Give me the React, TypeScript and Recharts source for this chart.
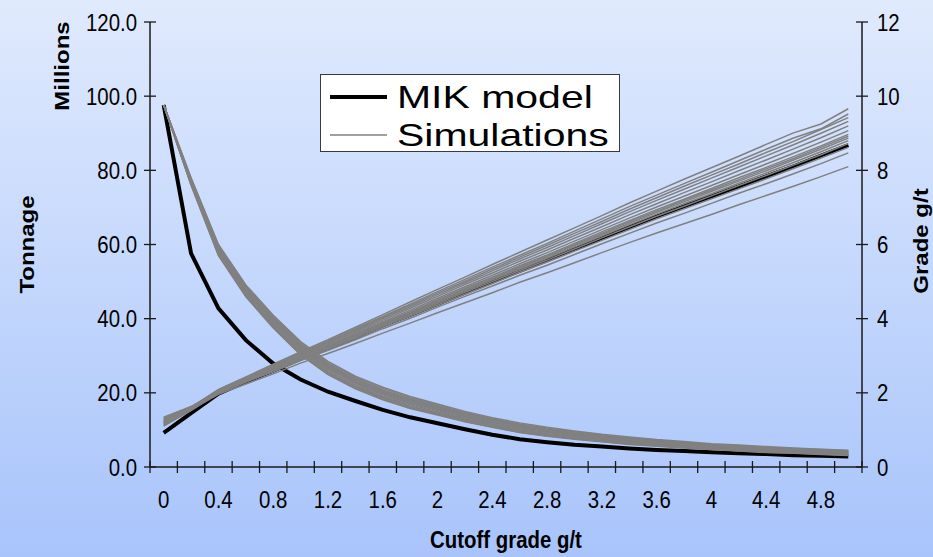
import { LineChart, Line, XAxis, YAxis, Legend } from "recharts"

// cutoff grade (g/t) categories along the bottom axis
const cutoffs = [0, 0.2, 0.4, 0.6, 0.8, 1, 1.2, 1.4, 1.6, 1.8, 2, 2.2, 2.4, 2.6, 2.8, 3, 3.2, 3.4, 3.6, 3.8, 4, 4.2, 4.4, 4.6, 4.8, 5]
const tonnageTicks = [0, 20, 40, 60, 80, 100, 120]
const gradeTicks = [0, 2, 4, 6, 8, 10, 12]

// MIK model: tonnage (millions) and mean grade above cutoff
const mikTonnage = [97.6, 57.6, 42.8, 34.2, 27.9, 23.6, 20.3, 17.8, 15.4, 13.4, 11.8, 10.2, 8.7, 7.5, 6.7, 6.0, 5.5, 5.0, 4.6, 4.3, 4.0, 3.7, 3.5, 3.2, 3.0, 2.8]
const mikGrade = [0.92, 1.45, 1.98, 2.3, 2.6, 2.92, 3.2, 3.5, 3.82, 4.1, 4.4, 4.7, 5.0, 5.29, 5.58, 5.88, 6.17, 6.47, 6.76, 7.03, 7.3, 7.57, 7.84, 8.11, 8.4, 8.68]

// conditional simulations, one row per realisation
const simTonnage = [
  [97.6, 76.4, 57.6, 46.5, 38.2, 30.9, 25.6, 21.8, 18.8, 16.4, 14.6, 12.8, 11.2, 9.8, 8.8, 7.9, 7.2, 6.5, 6.0, 5.5, 5.0, 4.6, 4.2, 4.0, 3.7, 3.4],
  [97.6, 76.1, 57.2, 46.1, 37.7, 30.4, 25.1, 21.3, 18.3, 16.0, 14.2, 12.3, 10.8, 9.4, 8.4, 7.6, 6.9, 6.2, 5.7, 5.2, 4.8, 4.4, 4.0, 3.8, 3.5, 3.2],
  [97.6, 77.3, 59.0, 48.0, 39.7, 32.5, 27.2, 23.3, 20.3, 17.9, 16.0, 14.0, 12.4, 11.0, 9.9, 8.9, 8.1, 7.4, 6.8, 6.3, 5.7, 5.3, 4.9, 4.6, 4.3, 4.0],
  [97.6, 76.8, 58.2, 47.2, 38.9, 31.6, 26.3, 22.5, 19.5, 17.1, 15.2, 13.3, 11.7, 10.3, 9.3, 8.4, 7.6, 6.9, 6.3, 5.8, 5.3, 4.9, 4.5, 4.3, 4.0, 3.7],
  [97.6, 77.8, 59.7, 48.8, 40.6, 33.4, 28.1, 24.2, 21.2, 18.7, 16.7, 14.7, 13.0, 11.6, 10.5, 9.5, 8.6, 7.9, 7.2, 6.7, 6.1, 5.7, 5.3, 5.0, 4.7, 4.4],
  [97.6, 77.1, 58.7, 47.7, 39.4, 32.2, 26.9, 23.0, 20.0, 17.6, 15.7, 13.7, 12.1, 10.7, 9.6, 8.7, 7.9, 7.2, 6.6, 6.1, 5.6, 5.2, 4.8, 4.5, 4.2, 3.9],
  [97.6, 77.5, 59.3, 48.3, 40.1, 32.9, 27.6, 23.7, 20.7, 18.2, 16.3, 14.3, 12.7, 11.3, 10.1, 9.2, 8.3, 7.6, 7.0, 6.5, 5.9, 5.5, 5.1, 4.8, 4.5, 4.2],
  [97.6, 76.6, 57.9, 46.9, 38.5, 31.3, 26.0, 22.1, 19.1, 16.8, 14.9, 13.0, 11.5, 10.1, 9.0, 8.2, 7.4, 6.7, 6.1, 5.6, 5.2, 4.8, 4.4, 4.1, 3.8, 3.5],
  [97.6, 78.0, 60.0, 49.1, 40.9, 33.8, 28.5, 24.5, 21.5, 19.0, 17.0, 15.0, 13.3, 11.9, 10.7, 9.7, 8.8, 8.1, 7.4, 6.9, 6.3, 5.9, 5.5, 5.1, 4.8, 4.5],
  [97.6, 77.6, 59.4, 48.5, 40.2, 33.1, 27.8, 23.8, 20.8, 18.4, 16.4, 14.4, 12.8, 11.4, 10.2, 9.3, 8.4, 7.7, 7.0, 6.5, 6.0, 5.6, 5.2, 4.8, 4.5, 4.2],
  [97.6, 76.0, 57.0, 45.9, 37.5, 30.2, 24.9, 21.1, 18.1, 15.8, 14.0, 12.2, 10.7, 9.3, 8.3, 7.5, 6.8, 6.1, 5.6, 5.1, 4.7, 4.3, 3.9, 3.7, 3.4, 3.1],
  [97.6, 77.0, 58.5, 47.5, 39.2, 32.0, 26.7, 22.8, 19.8, 17.4, 15.5, 13.6, 12.0, 10.6, 9.5, 8.6, 7.8, 7.1, 6.5, 6.0, 5.5, 5.1, 4.7, 4.4, 4.1, 3.8],
  [97.6, 77.4, 59.1, 48.1, 39.9, 32.7, 27.4, 23.5, 20.5, 18.0, 16.1, 14.2, 12.5, 11.1, 10.0, 9.0, 8.2, 7.5, 6.9, 6.4, 5.8, 5.4, 5.0, 4.7, 4.4, 4.1],
  [97.6, 76.3, 57.5, 46.4, 38.0, 30.7, 25.4, 21.6, 18.6, 16.3, 14.5, 12.6, 11.1, 9.7, 8.7, 7.8, 7.1, 6.4, 5.9, 5.4, 4.9, 4.5, 4.1, 3.9, 3.6, 3.3],
]
const simGrade = [
  [1.27, 1.61, 2.09, 2.43, 2.77, 3.11, 3.43, 3.77, 4.11, 4.45, 4.79, 5.12, 5.46, 5.79, 6.12, 6.45, 6.78, 7.12, 7.44, 7.76, 8.07, 8.38, 8.70, 9.01, 9.25, 9.66],
  [1.17, 1.61, 2.08, 2.41, 2.74, 3.08, 3.40, 3.73, 4.06, 4.39, 4.73, 5.06, 5.39, 5.71, 6.03, 6.36, 6.69, 7.02, 7.33, 7.64, 7.95, 8.26, 8.57, 8.87, 9.12, 9.52],
  [1.32, 1.62, 2.06, 2.39, 2.71, 3.04, 3.35, 3.67, 4.00, 4.32, 4.65, 4.97, 5.29, 5.61, 5.92, 6.24, 6.56, 6.88, 7.19, 7.49, 7.79, 8.09, 8.39, 8.69, 9.00, 9.32],
  [1.20, 1.60, 2.05, 2.37, 2.69, 3.02, 3.32, 3.64, 3.96, 4.28, 4.60, 4.92, 5.23, 5.55, 5.85, 6.17, 6.48, 6.80, 7.10, 7.40, 7.69, 7.99, 8.28, 8.58, 8.88, 9.20],
  [1.14, 1.55, 2.04, 2.36, 2.67, 2.99, 3.29, 3.60, 3.92, 4.23, 4.55, 4.86, 5.17, 5.48, 5.78, 6.09, 6.40, 6.71, 7.01, 7.30, 7.59, 7.88, 8.17, 8.46, 8.76, 9.07],
  [1.30, 1.62, 2.05, 2.35, 2.65, 2.97, 3.27, 3.57, 3.89, 4.19, 4.51, 4.82, 5.12, 5.43, 5.72, 6.03, 6.34, 6.64, 6.94, 7.22, 7.51, 7.80, 8.08, 8.37, 8.66, 8.97],
  [1.24, 1.58, 2.02, 2.34, 2.64, 2.95, 3.24, 3.54, 3.86, 4.16, 4.47, 4.77, 5.07, 5.38, 5.67, 5.97, 6.27, 6.57, 6.87, 7.15, 7.43, 7.71, 7.99, 8.28, 8.57, 8.87],
  [1.20, 1.57, 2.02, 2.33, 2.63, 2.94, 3.23, 3.52, 3.83, 4.13, 4.44, 4.74, 5.04, 5.34, 5.63, 5.93, 6.23, 6.53, 6.82, 7.10, 7.37, 7.65, 7.93, 8.21, 8.50, 8.80],
  [1.34, 1.63, 2.03, 2.32, 2.61, 2.92, 3.21, 3.50, 3.81, 4.10, 4.41, 4.71, 5.00, 5.30, 5.58, 5.88, 6.18, 6.47, 6.76, 7.03, 7.31, 7.59, 7.86, 8.14, 8.42, 8.72],
  [1.12, 1.52, 1.99, 2.30, 2.60, 2.90, 3.18, 3.47, 3.78, 4.07, 4.37, 4.66, 4.95, 5.25, 5.53, 5.82, 6.11, 6.40, 6.69, 6.96, 7.23, 7.50, 7.77, 8.05, 8.33, 8.62],
  [1.26, 1.57, 1.99, 2.29, 2.57, 2.87, 3.15, 3.43, 3.73, 4.01, 4.31, 4.60, 4.88, 5.17, 5.44, 5.73, 6.02, 6.30, 6.58, 6.84, 7.11, 7.38, 7.64, 7.91, 8.18, 8.47],
  [1.22, 1.55, 1.96, 2.24, 2.51, 2.80, 3.06, 3.33, 3.61, 3.88, 4.16, 4.43, 4.70, 4.98, 5.24, 5.51, 5.78, 6.05, 6.31, 6.56, 6.81, 7.07, 7.32, 7.57, 7.83, 8.10],
  [1.19, 1.60, 2.07, 2.40, 2.73, 3.06, 3.37, 3.70, 4.03, 4.36, 4.69, 5.01, 5.34, 5.66, 5.98, 6.30, 6.62, 6.95, 7.26, 7.57, 7.87, 8.17, 8.48, 8.78, 9.10, 9.42],
  [1.10, 1.54, 2.03, 2.34, 2.65, 2.96, 3.25, 3.56, 3.87, 4.18, 4.49, 4.79, 5.10, 5.40, 5.70, 6.00, 6.30, 6.61, 6.90, 7.19, 7.47, 7.75, 8.04, 8.32, 8.62, 8.92],
]

const legendItems = [
  { name: "MIK model", color: "#000000", width: 4 },
  { name: "Simulations", color: "#808080", width: 1.5 },
]

const W = 933
const H = 557
const PLOT = { left: 150, right: 862, top: 22, bottom: 467 }
const STEP = (PLOT.right - PLOT.left) / cutoffs.length
const FONT = '"Liberation Sans", Arial, Helvetica, sans-serif'
const SQUEEZE = 0.85
const INK = "#1a1a1a"
const SIM_COLOR = "#808080"

const rows = cutoffs.map((c, i) => {
  const row: Record<string, number> = { cutoff: c, mikT: mikTonnage[i], mikG: mikGrade[i] }
  simTonnage.forEach((s, k) => (row[`t${k}`] = s[i]))
  simGrade.forEach((s, k) => (row[`g${k}`] = s[i]))
  return row
})

function CutoffTick(props: any) {
  const { x, y, index, payload } = props
  const last = index === cutoffs.length - 1
  return (
    <g>
      <line x1={x - STEP / 2} x2={x - STEP / 2} y1={y - 6} y2={y + 6} stroke={INK} strokeWidth={1.3} />
      {last && <line x1={x + STEP / 2} x2={x + STEP / 2} y1={y - 6} y2={y + 6} stroke={INK} strokeWidth={1.3} />}
      {index % 2 === 0 && (
        <text
          transform={`translate(${x},${y + 41}) scale(${SQUEEZE},1)`}
          textAnchor="middle"
          fontSize={24}
          fontFamily={FONT}
          fill="#000"
        >
          {String(payload.value)}
        </text>
      )}
    </g>
  )
}

function TonnageTick(props: any) {
  const { x, y, payload } = props
  return (
    <g>
      <line x1={x - 6} x2={x + 6} y1={y} y2={y} stroke={INK} strokeWidth={1.3} />
      <text
        transform={`translate(${x - 13},${y}) scale(${SQUEEZE},1)`}
        textAnchor="end"
        dy="0.36em"
        fontSize={24}
        fontFamily={FONT}
        fill="#000"
      >
        {Number(payload.value).toFixed(1)}
      </text>
    </g>
  )
}

function GradeTick(props: any) {
  const { x, y, payload } = props
  return (
    <g>
      <line x1={x - 6} x2={x + 6} y1={y} y2={y} stroke={INK} strokeWidth={1.3} />
      <text
        transform={`translate(${x + 15},${y}) scale(${SQUEEZE},1)`}
        textAnchor="start"
        dy="0.36em"
        fontSize={24}
        fontFamily={FONT}
        fill="#000"
      >
        {String(payload.value)}
      </text>
    </g>
  )
}

function VTitle({ cx, cy, text }: { cx: number; cy: number; text: string }) {
  return (
    <text
      transform={`translate(${cx},${cy}) scale(${SQUEEZE},1) rotate(-90)`}
      textAnchor="middle"
      dy="0.36em"
      fontSize={24}
      fontWeight="bold"
      fontFamily={FONT}
      fill="#000"
    >
      {text}
    </text>
  )
}

function LeftTitles() {
  return (
    <g>
      <VTitle cx={27} cy={(PLOT.top + PLOT.bottom) / 2} text="Tonnage" />
      <VTitle cx={62} cy={66} text="Millions" />
    </g>
  )
}

function RightTitle() {
  return <VTitle cx={921} cy={241} text="Grade g/t" />
}

function BottomTitle() {
  return (
    <text
      transform={`translate(${(PLOT.left + PLOT.right) / 2},${548}) scale(${SQUEEZE},1)`}
      textAnchor="middle"
      fontSize={24}
      fontWeight="bold"
      fontFamily={FONT}
      fill="#000"
    >
      Cutoff grade g/t
    </text>
  )
}

function LegendBox() {
  return (
    <div
      style={{
        width: 300,
        height: 78,
        boxSizing: "border-box",
        border: "1px solid #3a3a3a",
        background: "#ffffff",
        padding: "3px 0 0 9px",
      }}
    >
      {legendItems.map((item) => (
        <div key={item.name} style={{ display: "flex", alignItems: "center", height: 38 }}>
          <svg width={57} height={10} style={{ flexShrink: 0 }}>
            <line x1={0} x2={57} y1={5} y2={5} stroke={item.color} strokeWidth={item.width} />
          </svg>
          <span
            style={{
              display: "inline-block",
              marginLeft: 10,
              fontFamily: FONT,
              fontSize: 32,
              lineHeight: "38px",
              color: "#000",
              whiteSpace: "nowrap",
              transform: "scaleX(1.28)",
              transformOrigin: "left center",
            }}
          >
            {item.name}
          </span>
        </div>
      ))}
    </div>
  )
}

export default function App() {
  return (
    <div
      style={{
        position: "absolute",
        left: 0,
        top: 0,
        width: W,
        height: H,
        background: "linear-gradient(180deg, #e0eafd 0%, #a8c4fb 100%)",
      }}
    >
      <LineChart width={W} height={H} data={rows} margin={{ top: PLOT.top, right: 0, bottom: 0, left: 0 }}>
        <XAxis
          dataKey="cutoff"
          height={H - PLOT.bottom}
          interval={0}
          padding={{ left: STEP / 2, right: STEP / 2 }}
          tickSize={0}
          tickMargin={0}
          tickLine={false}
          axisLine={{ stroke: INK, strokeWidth: 1.5 }}
          tick={<CutoffTick />}
          label={<BottomTitle />}
        />
        <YAxis
          yAxisId="t"
          orientation="left"
          width={PLOT.left}
          domain={[0, 120]}
          ticks={tonnageTicks}
          interval={0}
          tickSize={0}
          tickMargin={0}
          tickLine={false}
          axisLine={{ stroke: INK, strokeWidth: 1.5 }}
          tick={<TonnageTick />}
          label={<LeftTitles />}
        />
        <YAxis
          yAxisId="g"
          orientation="right"
          width={W - PLOT.right}
          domain={[0, 12]}
          ticks={gradeTicks}
          interval={0}
          tickSize={0}
          tickMargin={0}
          tickLine={false}
          axisLine={{ stroke: INK, strokeWidth: 1.5 }}
          tick={<GradeTick />}
          label={<RightTitle />}
        />
        <Legend
          layout="horizontal"
          verticalAlign="middle"
          align="center"
          wrapperStyle={{ left: 320, top: 74, width: 300, height: 78 }}
          content={<LegendBox />}
        />
        <Line yAxisId="t" dataKey="mikT" type="linear" stroke="#000" strokeWidth={4} dot={false} isAnimationActive={false} />
        <Line yAxisId="g" dataKey="mikG" type="linear" stroke="#000" strokeWidth={4} dot={false} isAnimationActive={false} />
        {simTonnage.map((_, k) => (
          <Line
            key={`t${k}`}
            yAxisId="t"
            dataKey={`t${k}`}
            type="linear"
            stroke={SIM_COLOR}
            strokeWidth={1.5}
            dot={false}
            isAnimationActive={false}
          />
        ))}
        {simGrade.map((_, k) => (
          <Line
            key={`g${k}`}
            yAxisId="g"
            dataKey={`g${k}`}
            type="linear"
            stroke={SIM_COLOR}
            strokeWidth={1.5}
            dot={false}
            isAnimationActive={false}
          />
        ))}
      </LineChart>
    </div>
  )
}
